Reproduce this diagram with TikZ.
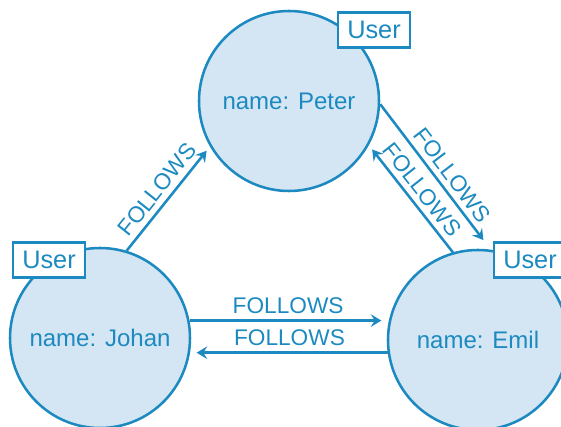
\documentclass[tikz,border=0pt]{standalone}
\usepackage{fontspec}
\setmainfont{Liberation Sans}
\usetikzlibrary{arrows.meta, positioning}
\definecolor{GraphBlue}{HTML}{1C8AC0}
\definecolor{NodeFill}{HTML}{D4E6F4}
\tikzset{
  usernode/.style={circle, draw=GraphBlue, fill=NodeFill, line width=1.9pt, minimum size=135pt, inner sep=0pt, text=GraphBlue, font=\fontsize{18}{20}\selectfont},
  labelbox/.style={rectangle, draw=GraphBlue, fill=white, line width=1.9pt, minimum width=54pt, minimum height=26pt, inner sep=0pt, text=GraphBlue, font=\fontsize{19}{21}\selectfont},
  relarrow/.style={-{Stealth[length=8pt, width=9.5pt, inset=3pt]}, line width=1.9pt, GraphBlue, shorten >=4pt},
  rellabel/.style={text=GraphBlue, font=\fontsize{17}{19}\selectfont, inner sep=4pt}
}
\begin{document}
\begin{tikzpicture}[x=0.75pt, y=-0.75pt]
  \useasboundingbox (0,0) rectangle (561,427);

  % Users
  \node[usernode] (peter) at (289,101) {name: Peter};
  \node[usernode] (johan) at (100,338) {name: Johan};
  \node[usernode] (emil) at (478,340) {name: Emil};

  % Labels
  \node[labelbox] (peterlbl) at (374,30) {User};
  \node[labelbox] (johanlbl) at (49,260) {User};
  \node[labelbox] (emillbl) at (530,260) {User};

  % Relationships
  \draw[relarrow] (johan.73) -- (peter.210)
    node[rellabel, midway, sloped, above] {FOLLOWS};
  \draw[relarrow, shorten >=9pt] (peter.-2) -- (emil.82)
    node[rellabel, pos=0.55, sloped, above] {FOLLOWS};
  \draw[relarrow] (emil.106) -- (peter.-29)
    node[rellabel, midway, sloped, above] {FOLLOWS};
  \draw[relarrow] (johan.11) -- (johan.11 -| emil.west)
    node[rellabel, midway, above] {FOLLOWS};
  \draw[relarrow] (emil.188) -- (emil.188 -| johan.east)
    node[rellabel, midway, above] {FOLLOWS};
\end{tikzpicture}
\end{document}
